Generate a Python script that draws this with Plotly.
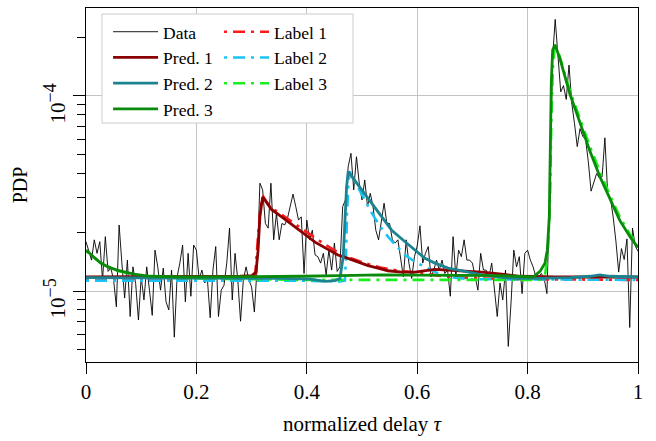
import numpy as np
import plotly.graph_objects as go

# ---------------- data (PDP values in units of 1e-5) ----------------
delay = np.linspace(0.0, 1.0, 201)
pdp_data = [
    1.79, 1.62, 1.44, 1.83, 1.56, 1.79, 1.14, 1.90, 1.26, 1.31,
    1.14, 0.83, 2.18, 1.39, 0.92, 1.44, 0.74, 1.33, 1.09, 0.71,
    1.18, 0.90, 1.33, 1.01, 0.75, 1.62, 1.33, 1.01, 1.31, 0.88,
    0.80, 1.28, 0.58, 1.18, 1.39, 1.72, 0.88, 1.56, 0.94, 1.72,
    1.62, 1.15, 1.28, 1.10, 1.14, 0.73, 1.28, 1.69, 0.74, 1.01,
    1.07, 1.39, 2.10, 0.90, 1.56, 1.14, 0.70, 1.14, 1.33, 1.14,
    1.05, 0.78, 1.33, 3.57, 3.30, 2.22, 2.10, 3.57, 1.83, 2.50,
    1.83, 2.22, 2.18, 2.36, 2.71, 3.14, 2.71, 2.31, 2.40, 1.23,
    2.31, 1.83, 2.05, 1.53, 1.50, 1.39, 1.56, 1.21, 1.62, 1.28,
    1.76, 1.26, 1.33, 2.71, 2.93, 4.34, 5.08, 3.30, 4.88, 3.57,
    2.93, 3.71, 2.71, 3.17, 2.71, 2.05, 1.83, 2.31, 2.82, 2.22,
    2.22, 1.83, 1.76, 1.83, 1.44, 1.18, 1.83, 1.39, 1.16, 1.50,
    1.70, 2.16, 1.39, 1.56, 1.69, 1.18, 1.28, 1.44, 1.28, 1.44,
    1.23, 1.28, 0.94, 1.90, 1.18, 1.62, 1.50, 1.83, 1.44, 1.44,
    1.39, 1.18, 1.01, 1.56, 1.28, 1.28, 1.18, 1.39, 1.01, 0.74,
    1.10, 0.90, 1.28, 0.52, 0.87, 1.62, 1.33, 1.50, 0.97, 1.56,
    1.62, 1.44, 1.33, 1.18, 1.18, 1.23, 1.16, 0.97, 2.93, 15.3,
    24.7, 15.3, 10.5, 11.3, 9.6, 14.4, 9.2, 7.2, 5.5, 6.8,
    6.2, 6.0, 4.6, 3.25, 3.57, 4.0, 3.8, 3.85, 6.1, 3.2,
    3.0, 2.4, 1.8, 1.25, 1.65, 1.45, 1.85, 0.65, 2.1, 1.7,
    1.6,
]

pred1_x = [0.0, 0.116, 0.2065, 0.279, 0.3007, 0.308, 0.3116, 0.315, 0.320, 0.326,
           0.336, 0.3545, 0.3786, 0.3967, 0.4149, 0.433, 0.4565, 0.4746, 0.4928, 0.511,
           0.529, 0.547, 0.5725, 0.596, 0.632, 0.659, 0.717, 0.753, 0.786, 0.85, 1.0]
pred1_y = [1.18, 1.18, 1.18, 1.19, 1.20, 1.25, 1.6, 2.4, 3.04, 2.88,
           2.62, 2.40, 2.14, 1.95, 1.78, 1.66, 1.53, 1.47, 1.41, 1.35,
           1.31, 1.27, 1.25, 1.25, 1.29, 1.28, 1.25, 1.22, 1.19, 1.18, 1.18]

label1_x = [0.0, 0.297, 0.306, 0.3116, 0.317, 0.321, 0.333, 0.355, 0.379, 0.402,
            0.424, 0.451, 0.478, 0.505, 0.533, 0.560, 0.587, 0.623, 0.659, 0.714,
            0.786, 1.0]
label1_y = [1.14, 1.14, 1.15, 1.9, 2.9, 3.05, 2.70, 2.46, 2.20, 1.98,
            1.80, 1.61, 1.48, 1.39, 1.32, 1.28, 1.25, 1.21, 1.18, 1.16,
            1.15, 1.14]

pred2_x = [0.0, 0.207, 0.351, 0.406, 0.433, 0.451, 0.460, 0.466, 0.469, 0.472,
           0.475, 0.482, 0.4995, 0.5175, 0.5357, 0.5538, 0.578, 0.6015, 0.614, 0.632,
           0.656, 0.6866, 0.717, 0.746, 0.777, 0.822, 0.877, 0.913, 0.931, 0.949, 1.0]
pred2_y = [1.17, 1.17, 1.16, 1.15, 1.12, 1.13, 1.16, 1.5, 2.4, 3.4,
           4.09, 3.85, 3.30, 2.82, 2.40, 2.05, 1.79, 1.58, 1.47, 1.39,
           1.31, 1.26, 1.21, 1.18, 1.16, 1.16, 1.17, 1.19, 1.21, 1.19, 1.18]

label2_x = [0.0, 0.388, 0.460, 0.469, 0.471, 0.4728, 0.4755, 0.478, 0.487, 0.500,
            0.518, 0.5326, 0.547, 0.562, 0.578, 0.596, 0.620, 0.641, 0.668, 0.696, 1.0]
label2_y = [1.13, 1.13, 1.12, 1.13, 1.5, 2.5, 3.6, 4.1, 3.65, 3.1,
            2.5, 2.15, 1.90, 1.70, 1.53, 1.41, 1.30, 1.22, 1.17, 1.15, 1.14]

pred3_x = [0.0, 0.0127, 0.0266, 0.0399, 0.056, 0.087, 0.116, 0.178, 0.297, 0.388,
           0.460, 0.5326, 0.750, 0.810, 0.8225, 0.8315, 0.8357, 0.8393, 0.8411, 0.8429,
           0.8454, 0.8484, 0.8496, 0.8587, 0.8768, 0.8949, 0.913, 0.931, 0.949, 0.967,
           0.9855, 1.0]
pred3_y = [1.62, 1.50, 1.39, 1.33, 1.28, 1.22, 1.19, 1.18, 1.18, 1.19,
           1.20, 1.21, 1.20, 1.18, 1.26, 1.39, 1.62, 2.40, 5.28, 11.6,
           17.2, 18.3, 18.3, 15.5, 10.2, 7.3, 5.2, 3.85, 2.95, 2.3,
           1.9, 1.67]

label3_x = [0.0, 0.0254, 0.0562, 0.087, 0.116, 0.178, 0.297, 0.388, 0.822, 0.8315,
            0.8370, 0.8406, 0.8433, 0.8460, 0.8496, 0.8587, 0.8768, 0.8949, 0.913, 0.931,
            0.949, 0.967, 0.9855, 1.0]
label3_y = [1.60, 1.40, 1.27, 1.21, 1.18, 1.16, 1.15, 1.14, 1.14, 1.20,
            1.6, 3.0, 8.0, 14.5, 18.6, 15.8, 10.6, 7.6, 5.5, 4.1,
            3.1, 2.4, 1.95, 1.70]

SCALE = 1e-5
FONT = "Liberation Serif, Times New Roman, serif"


def scaled(vals):
    return [v * SCALE for v in vals]


def power_label(exp):
    # trailing non-breaking spaces nudge the rotated label so "10" sits on the tick
    return "10<sup><span style='font-size:18px'>−%d</span></sup>&nbsp;&nbsp;&nbsp;&nbsp;" % exp


fig = go.Figure()

fig.add_trace(go.Scatter(x=delay, y=scaled(pdp_data), mode="lines", name="Data",
                         line=dict(color="black", width=0.9), legend="legend"))

# label curves sit underneath the predictions
dashdot = "3px,6px,12px,6px"
fig.add_trace(go.Scatter(x=label1_x, y=scaled(label1_y), mode="lines", name="Label 1",
                         line=dict(color="#ff1a1a", width=2.6, dash=dashdot), legend="legend2"))
fig.add_trace(go.Scatter(x=label2_x, y=scaled(label2_y), mode="lines", name="Label 2",
                         line=dict(color="#19c3f5", width=2.6, dash=dashdot), legend="legend2"))
fig.add_trace(go.Scatter(x=label3_x, y=scaled(label3_y), mode="lines", name="Label 3",
                         line=dict(color="#19f019", width=2.6, dash=dashdot), legend="legend2"))

pred_style = dict(width=2.8)
fig.add_trace(go.Scatter(x=pred1_x, y=scaled(pred1_y), mode="lines", name="Pred. 1",
                         line=dict(color="#8b0000", **pred_style), legend="legend"))
fig.add_trace(go.Scatter(x=pred2_x, y=scaled(pred2_y), mode="lines", name="Pred. 2",
                         line=dict(color="#1c8490", **pred_style), legend="legend"))
fig.add_trace(go.Scatter(x=pred3_x, y=scaled(pred3_y), mode="lines", name="Pred. 3",
                         line=dict(color="#0a8a0a", **pred_style), legend="legend"))

minor_vals = [m * 1e-6 for m in range(2, 10)] + [m * 1e-5 for m in range(2, 10)] + [2e-4]

fig.update_layout(
    width=656, height=441,
    margin=dict(l=86, r=18, t=8, b=79),
    paper_bgcolor="white", plot_bgcolor="white",
    font=dict(family=FONT, size=21, color="black"),
    xaxis=dict(
        range=[0, 1], tickvals=[0, 0.2, 0.4, 0.6, 0.8, 1.0],
        ticktext=["0", "0.2", "0.4", "0.6", "0.8", "1"],
        showgrid=True, gridcolor="#c4c4c4", gridwidth=1,
        showline=True, linecolor="black", linewidth=1, mirror=True,
        ticks="outside", ticklen=11, tickcolor="black",
        zeroline=False,
        title=dict(text="normalized delay <i>τ</i>", standoff=13, font=dict(size=21)),
        tickfont=dict(size=21),
    ),
    yaxis=dict(
        type="log", range=[-5.364, -3.549],
        tickvals=[1e-5, 1e-4], ticktext=[power_label(5), power_label(4)],
        tickangle=-90,
        showgrid=True, gridcolor="#c4c4c4", gridwidth=1,
        showline=True, linecolor="black", linewidth=1, mirror=True,
        ticks="outside", ticklen=12, tickcolor="black",
        minor=dict(tickvals=minor_vals, ticks="outside", ticklen=8,
                   tickcolor="black", showgrid=False),
        zeroline=False,
        title=dict(text="PDP", standoff=6, font=dict(size=20)),
        tickfont=dict(size=21),
    ),
    legend=dict(x=0.04, y=0.9835, xanchor="left", yanchor="top",
                bgcolor="rgba(0,0,0,0)", borderwidth=0,
                font=dict(family=FONT, size=17.5), itemwidth=45,
                tracegroupgap=0),
    legend2=dict(x=0.241, y=0.9835, xanchor="left", yanchor="top",
                 bgcolor="rgba(0,0,0,0)", borderwidth=0,
                 font=dict(family=FONT, size=17.5), itemwidth=45,
                 tracegroupgap=0),
    shapes=[dict(type="rect", xref="paper", yref="paper",
                 x0=0.029, x1=0.4837, y0=0.675, y1=0.983,
                 fillcolor="white", line=dict(color="#cccccc", width=1),
                 layer="above")],
)

fig.write_html("out.html")
